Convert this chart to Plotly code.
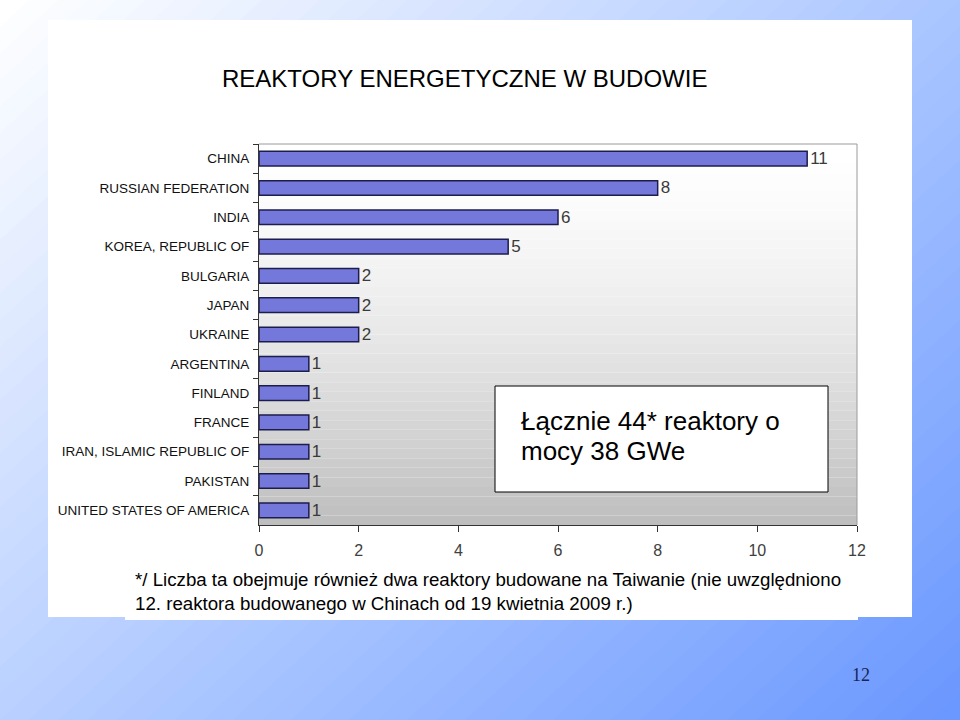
import plotly.graph_objects as go

# data
countries = [
    "CHINA", "RUSSIAN FEDERATION", "INDIA", "KOREA, REPUBLIC OF", "BULGARIA",
    "JAPAN", "UKRAINE", "ARGENTINA", "FINLAND", "FRANCE",
    "IRAN, ISLAMIC REPUBLIC OF", "PAKISTAN", "UNITED STATES OF AMERICA",
]
reactors = [11, 8, 6, 5, 2, 2, 2, 1, 1, 1, 1, 1, 1]
x_ticks = [0, 2, 4, 6, 8, 10, 12]

title_text = "REAKTORY ENERGETYCZNE W BUDOWIE"
box_lines = ["Łącznie 44* reaktory o", "mocy 38 GWe"]
footnote_lines = [
    "*/ Liczba ta obejmuje również dwa reaktory budowane na Taiwanie (nie uwzględniono",
    "12. reaktora budowanego w Chinach od 19 kwietnia 2009 r.)",
]
page_number = "12"

W, H = 960, 720
FONT = "Liberation Sans, Arial, sans-serif"


def px(x):
    return x / W


def py(y):
    return 1 - y / H


def mix(c1, c2, t):
    return "rgb({},{},{})".format(*[round(a + (b - a) * t) for a, b in zip(c1, c2)])


def clip_halfplane(a, b, t):
    # polygon of the region a*u + b*v >= t inside a slightly oversized box
    box = [(-0.05, -0.05), (1.05, -0.05), (1.05, 1.05), (-0.05, 1.05)]
    out = []
    n = len(box)
    for i in range(n):
        p, q = box[i], box[(i + 1) % n]
        fp = a * p[0] + b * p[1] - t
        fq = a * q[0] + b * q[1] - t
        if fp >= 0:
            out.append(p)
        if (fp >= 0) != (fq >= 0):
            s = fp / (fp - fq)
            out.append((p[0] + s * (q[0] - p[0]), p[1] + s * (q[1] - p[1])))
    return out


shapes = []

# diagonal blue slide background
bg_stops = [(0.0, (255, 255, 255)), (0.5, (176, 202, 255)), (1.0, (104, 150, 255))]
n_bands = 60
for i in range(n_bands):
    t = i / n_bands
    if t <= 0.5:
        col = mix(bg_stops[0][1], bg_stops[1][1], t / 0.5)
    else:
        col = mix(bg_stops[1][1], bg_stops[2][1], (t - 0.5) / 0.5)
    poly = clip_halfplane(0.55, 0.45, t)
    if len(poly) < 3:
        continue
    path = "M" + " L".join(f"{u:.4f},{1 - v:.4f}" for u, v in poly) + " Z"
    shapes.append(dict(type="path", xref="paper", yref="paper", path=path,
                       fillcolor=col, line=dict(width=0), layer="below"))

# white slide panel
shapes.append(dict(type="rect", xref="paper", yref="paper",
                   x0=px(48), x1=px(912), y0=py(617), y1=py(20),
                   fillcolor="white", line=dict(width=0), layer="below"))
shapes.append(dict(type="rect", xref="paper", yref="paper",
                   x0=px(125), x1=px(858), y0=py(620), y1=py(600),
                   fillcolor="white", line=dict(width=0), layer="below"))

# plot area grey gradient
left, right, top, bottom = 259, 857, 144, 525
n_plot = 40
for i in range(n_plot):
    y0 = top + (bottom - top) * i / n_plot
    y1 = top + (bottom - top) * (i + 1) / n_plot
    t = ((i + 0.5) / n_plot) ** 1.5
    shapes.append(dict(type="rect", xref="paper", yref="paper",
                       x0=px(left), x1=px(right), y0=py(y1), y1=py(y0),
                       fillcolor=mix((255, 255, 255), (189, 189, 189), t),
                       line=dict(width=0), layer="below"))

# top / right plot border
shapes.append(dict(type="path", xref="paper", yref="paper",
                   path=f"M{px(left)},{py(top)} L{px(right)},{py(top)} L{px(right)},{py(bottom)}",
                   line=dict(color="#9a9a9a", width=1), layer="below"))

# text box
shapes.append(dict(type="rect", xref="paper", yref="paper",
                   x0=px(495), x1=px(828), y0=py(492), y1=py(386),
                   fillcolor="white", line=dict(color="#000000", width=1), layer="above"))

fig = go.Figure(go.Bar(
    x=reactors,
    y=countries,
    orientation="h",
    marker=dict(color="#7478da", line=dict(color="#1d1d4d", width=1.5)),
    text=reactors,
    textposition="outside",
    constraintext="none",
    textfont=dict(family=FONT, size=17, color="#3a3a3a"),
    cliponaxis=False,
    hoverinfo="skip",
))

fig.update_layout(
    width=W, height=H,
    margin=dict(l=0, r=0, t=0, b=0),
    paper_bgcolor="white",
    plot_bgcolor="rgba(0,0,0,0)",
    bargap=0.5,
    showlegend=False,
    shapes=shapes,
    font=dict(family=FONT),
    xaxis=dict(
        domain=[px(left), px(right)],
        range=[0, 12],
        tickvals=x_ticks,
        ticks="outside", ticklen=6, tickcolor="#333333",
        showline=True, linecolor="#333333", linewidth=1,
        showgrid=False, zeroline=False,
        ticklabelstandoff=5,
        tickfont=dict(family=FONT, size=16, color="#404040"),
        automargin=False,
    ),
    yaxis=dict(
        domain=[py(bottom), py(top)],
        autorange="reversed",
        tickson="boundaries",
        ticks="outside", ticklen=5, tickcolor="#333333",
        showline=True, linecolor="#333333", linewidth=1,
        showgrid=False, zeroline=False,
        ticklabelstandoff=6,
        tickfont=dict(family=FONT, size=13.5, color="#111111"),
        automargin=False,
    ),
)

fig.add_annotation(text=title_text, xref="paper", yref="paper",
                   x=px(464), y=py(78), xanchor="center", yanchor="middle",
                   showarrow=False, font=dict(family=FONT, size=24, color="#000000"))

for line, base in zip(box_lines, [421, 451]):
    fig.add_annotation(text=line, xref="paper", yref="paper",
                       x=px(519), y=py(base), xanchor="left", yanchor="middle",
                       showarrow=False, font=dict(family=FONT, size=26, color="#000000"))

fig.add_annotation(text="<br>".join(footnote_lines), xref="paper", yref="paper",
                   x=px(133), y=py(591), xanchor="left", yanchor="middle", align="left",
                   showarrow=False, font=dict(family=FONT, size=18.7, color="#000000"))

fig.add_annotation(text=page_number, xref="paper", yref="paper",
                   x=px(861), y=py(675), xanchor="center", yanchor="middle",
                   showarrow=False,
                   font=dict(family="Liberation Serif, Times New Roman, serif", size=18, color="#1a2455"))

# drop the default page margin so the 960x720 figure fills the window
fig.write_html("out.html", config={"displayModeBar": False},
               post_script="document.body.style.margin='0';")
